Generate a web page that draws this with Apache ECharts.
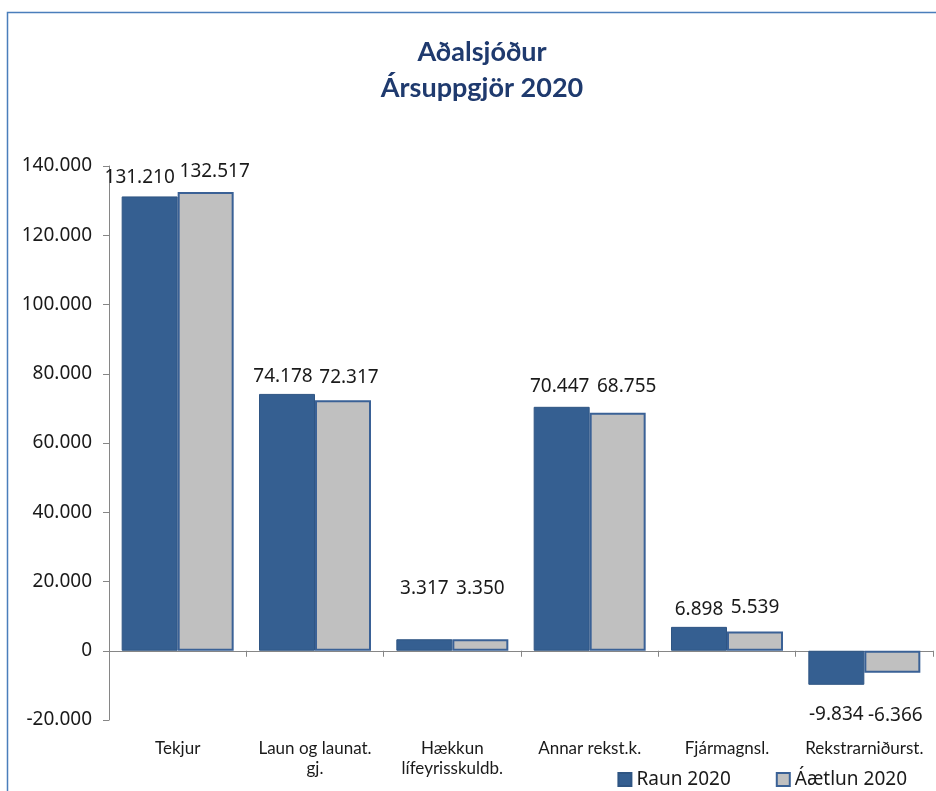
<!DOCTYPE html>
<html><head><meta charset="utf-8">
<script src="https://cdn.jsdelivr.net/npm/echarts@6/dist/echarts.min.js"></script>
<style>html,body{margin:0;padding:0;background:#fff}#c{width:936px;height:791px}</style>
</head><body><div id="c"></div>
<script>
const titleText = 'Aðalsjóður\nÁrsuppgjör 2020';
const categories = ['Tekjur', 'Laun og launat.\ngj.', 'Hækkun\nlífeyrisskuldb.', 'Annar rekst.k.', 'Fjármagnsl.', 'Rekstrarniðurst.'];
const seriesNames = ['Raun 2020', 'Áætlun 2020'];
const raun = [131210, 74178, 3317, 70447, 6898, -9834];
const aaetlun = [132517, 72317, 3350, 68755, 5539, -6366];
const yMin = -20000, yMax = 140000, yStep = 20000;

function fmt(v) {
  const s = Math.abs(v).toString().replace(/\B(?=(\d{3})+(?!\d))/g, '.');
  return (v < 0 ? '-' : '') + s;
}
const labelFont = {fontFamily: 'Noto Sans', fontSize: 19, color: '#1a1a1a'};
// offsets to mimic the original's label placement (overlap avoidance)
const raunOffsets = [[-10, -3], [-4, -2], [0, -35], [-2, -5], [0, -2], [0, 0]];
const aaetOffsets = [[9, -5], [6, -7], [0, -35], [9, -11], [0, -8], [3, 0]];
function buildData(vals, offs, negDist) {
  return vals.map((v, i) => ({
    value: v,
    label: v < 0 ? {position: 'bottom', distance: negDist, offset: offs[i]} : {position: 'top', distance: 6, offset: offs[i]}
  }));
}

const chart = echarts.init(document.getElementById('c'), null, {renderer: 'canvas'});
chart.setOption({
  animation: false,
  backgroundColor: '#fff',
  graphic: [{type: 'rect', left: 5, top: 10, shape: {x: 0, y: 0, width: 945, height: 800}, style: {fill: 'none', stroke: '#4a7ebb', lineWidth: 1.5}, silent: true}],
  title: {
    text: titleText, left: 477, textAlign: 'center', top: 29,
    textStyle: {fontFamily: 'Lato', fontWeight: 'bold', fontSize: 27, color: '#1f3a6e', lineHeight: 36}
  },
  legend: {
    data: seriesNames, right: 24, top: 765, itemWidth: 13, itemHeight: 13, itemGap: 45, icon: 'rect',
    textStyle: {fontFamily: 'Noto Sans', fontSize: 19, color: '#1a1a1a'}
  },
  grid: {left: 109, right: 3, top: 166, bottom: 71},
  xAxis: [{
    type: 'category', data: categories, position: 'bottom',
    axisLine: {onZero: true, lineStyle: {color: '#868686', width: 1}},
    axisTick: {show: true, alignWithLabel: false, length: 6, lineStyle: {color: '#868686'}},
    axisLabel: {show: false}, splitLine: {show: false}
  }, {
    type: 'category', data: categories, position: 'bottom',
    axisLine: {show: false, onZero: false}, axisTick: {show: false},
    axisLabel: {margin: 19, interval: 0, fontFamily: 'Lato', fontSize: 17, color: '#1a1a1a', lineHeight: 20}
  }],
  yAxis: {
    type: 'value', min: yMin, max: yMax, interval: yStep,
    axisLine: {show: true, lineStyle: {color: '#868686'}},
    axisTick: {show: true, length: 6, lineStyle: {color: '#868686'}},
    splitLine: {show: false},
    axisLabel: {margin: 17, fontFamily: 'Noto Sans', fontSize: 19, color: '#1a1a1a', formatter: fmt}
  },
  series: [{
    name: seriesNames[0], type: 'bar', xAxisIndex: 0, barWidth: 56, barGap: '0%',
    data: buildData(raun, raunOffsets, 20),
    itemStyle: {color: '#355f91', borderColor: '#2f5583', borderWidth: 1},
    label: Object.assign({show: true, formatter: p => fmt(p.value)}, labelFont)
  }, {
    name: seriesNames[1], type: 'bar', xAxisIndex: 0, barWidth: 56, barGap: '0%',
    data: buildData(aaetlun, aaetOffsets, 33),
    itemStyle: {color: '#c0c0c0', borderColor: '#3a6196', borderWidth: 2},
    label: Object.assign({show: true, formatter: p => fmt(p.value)}, labelFont)
  }]
});
</script></body></html>
